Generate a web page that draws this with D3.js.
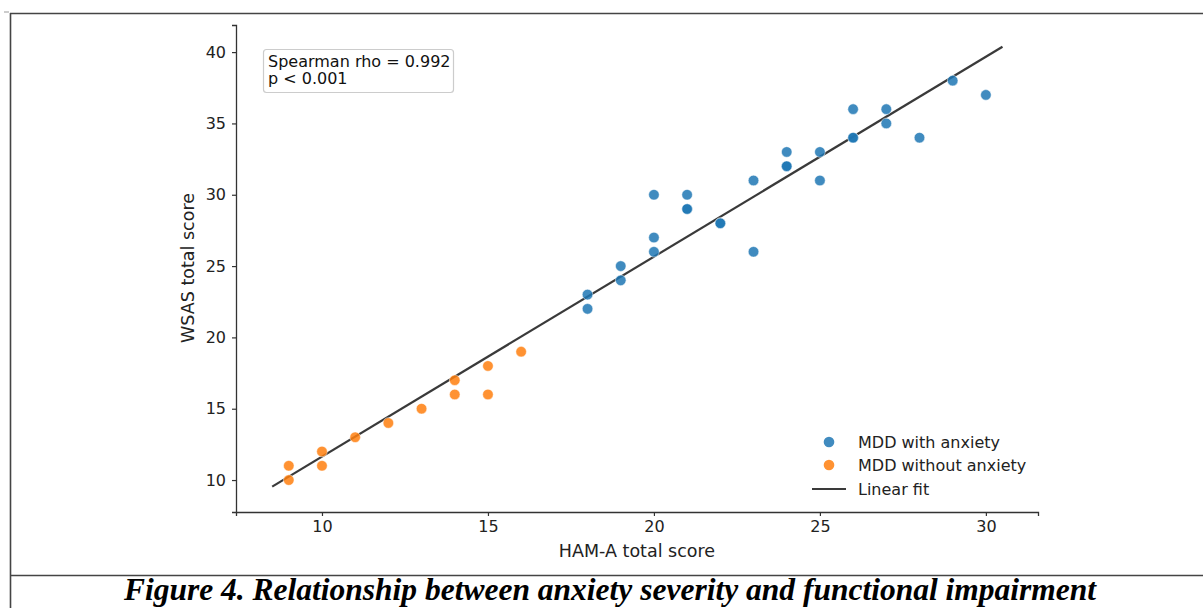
<!DOCTYPE html>
<html>
<head>
<meta charset="utf-8">
<script src="https://cdn.jsdelivr.net/npm/d3@7"></script>
<style>
  html, body { margin: 0; padding: 0; background: #fff; }
  svg { display: block; }
</style>
</head>
<body>
<svg id="chart" width="1203" height="608"></svg>
<script>
// ---- data ----
const withAnxietyX = [18,18,19,19,20,20,20,21,21,21,22,22,23,23,24,24,24,25,25,26,26,26,27,27,28,29,30];
const withAnxietyY = [23,22,25,24,30,27,26,30,29,29,28,28,31,26,33,32,32,33,31,36,34,34,36,35,34,38,37];
const withoutAnxietyX = [9,9,10,10,11,12,13,14,14,15,15,16];
const withoutAnxietyY = [11,10,12,11,13,14,15,17,16,18,16,19];
const xTicks = [10,15,20,25,30];
const yTicks = [10,15,20,25,30,35,40];
const seriesNames = ["MDD with anxiety","MDD without anxiety","Linear fit"];
const statsText = ["Spearman rho = 0.992","p < 0.001"];
const xLabel = "HAM-A total score";
const yLabel = "WSAS total score";
const caption = "Figure 4. Relationship between anxiety severity and functional impairment";

const SANS = "'DejaVu Sans', sans-serif";
const svg = d3.select("#chart");

// outer frame lines
svg.append("line").attr("x1",10).attr("x2",1203).attr("y1",13.5).attr("y2",13.5).attr("stroke","#444").attr("stroke-width",1.6);
svg.append("line").attr("x1",10.5).attr("x2",10.5).attr("y1",13).attr("y2",608).attr("stroke","#444").attr("stroke-width",1.6);
svg.append("line").attr("x1",10).attr("x2",1203).attr("y1",575.5).attr("y2",575.5).attr("stroke","#444").attr("stroke-width",1.6);
svg.append("line").attr("x1",4).attr("x2",9).attr("y1",12).attr("y2",12).attr("stroke","#999").attr("stroke-width",1);

// scales
const x = d3.scaleLinear().domain([7.41, 31.57]).range([236, 1038]);
const y = d3.scaleLinear().domain([7.76, 41.9]).range([512, 25]);

const axisColor = "#333";

// x axis
const gx = svg.append("g").attr("transform","translate(0,512)")
  .call(d3.axisBottom(x).tickValues(xTicks).tickFormat(d3.format("d")).tickSizeOuter(0).tickSize(4).tickPadding(5));
gx.select(".domain").attr("stroke",axisColor).attr("stroke-width",1.3);
gx.selectAll(".tick line").attr("stroke",axisColor).attr("stroke-width",1.2);
gx.selectAll(".tick text").style("font-size","16px").style("font-family",SANS).attr("fill","#222");

// y axis
const gy = svg.append("g").attr("transform","translate(236,0)")
  .call(d3.axisLeft(y).tickValues(yTicks).tickFormat(d3.format("d")).tickSizeOuter(0).tickSize(4).tickPadding(6));
gy.select(".domain").attr("stroke",axisColor).attr("stroke-width",1.3);
gy.selectAll(".tick line").attr("stroke",axisColor).attr("stroke-width",1.2);
gy.selectAll(".tick text").style("font-size","16px").style("font-family",SANS).attr("fill","#222");

// axis labels
svg.append("text").attr("x",637).attr("y",557).attr("text-anchor","middle")
  .style("font-size","17.5px").style("font-family",SANS).attr("fill","#222").text(xLabel);
svg.append("text").attr("transform","translate(194,268) rotate(-90)").attr("text-anchor","middle")
  .style("font-size","17.5px").style("font-family",SANS).attr("fill","#222").text(yLabel);

// linear fit (least squares on all points)
const allX = withAnxietyX.concat(withoutAnxietyX);
const allY = withAnxietyY.concat(withoutAnxietyY);
const mx = d3.mean(allX), my = d3.mean(allY);
let sxy = 0, sxx = 0;
allX.forEach((v,i)=>{ sxy += (v-mx)*(allY[i]-my); sxx += (v-mx)*(v-mx); });
const slope = sxy/sxx, intercept = my - slope*mx;
const x0 = d3.min(allX) - 0.5, x1 = d3.max(allX) + 0.5;
svg.append("line")
  .attr("x1",x(x0)).attr("y1",y(intercept+slope*x0))
  .attr("x2",x(x1)).attr("y2",y(intercept+slope*x1))
  .attr("stroke","#3a3a3a").attr("stroke-width",2.2);

const blue = "#1f77b4", orange = "#ff7f0e";
const ptsBlue = withAnxietyX.map((v,i)=>({x:v,y:withAnxietyY[i]}));
const ptsOrange = withoutAnxietyX.map((v,i)=>({x:v,y:withoutAnxietyY[i]}));

svg.append("g").selectAll("circle").data(ptsOrange).join("circle")
  .attr("cx",d=>x(d.x)).attr("cy",d=>y(d.y)).attr("r",5.3)
  .attr("fill",orange).attr("fill-opacity",0.85).attr("stroke","#fff").attr("stroke-width",0.5);
svg.append("g").selectAll("circle").data(ptsBlue).join("circle")
  .attr("cx",d=>x(d.x)).attr("cy",d=>y(d.y)).attr("r",5.3)
  .attr("fill",blue).attr("fill-opacity",0.85).attr("stroke","#fff").attr("stroke-width",0.5);

// stats box
svg.append("rect").attr("x",263.5).attr("y",49.5).attr("width",190).attr("height",43).attr("rx",3)
  .attr("fill","#fff").attr("stroke","#ccc").attr("stroke-width",1.2);
svg.append("g").selectAll("text").data(statsText).join("text")
  .attr("x",268).attr("y",(d,i)=>67+i*17).style("font-size","16px").style("font-family",SANS).attr("fill","#111").text(d=>d);

// legend
const legendY = [442,465,489];
const lg = svg.append("g");
lg.append("circle").attr("cx",829).attr("cy",legendY[0]).attr("r",5.3).attr("fill",blue).attr("fill-opacity",0.85);
lg.append("circle").attr("cx",829).attr("cy",legendY[1]).attr("r",5.3).attr("fill",orange).attr("fill-opacity",0.85);
lg.append("line").attr("x1",812).attr("x2",846).attr("y1",legendY[2]).attr("y2",legendY[2]).attr("stroke","#3a3a3a").attr("stroke-width",2.2);
lg.selectAll("text").data(seriesNames).join("text")
  .attr("x",858).attr("y",(d,i)=>legendY[i]+6).style("font-size","16px").style("font-family",SANS).attr("fill","#222").text(d=>d);

// caption
svg.append("text").attr("x",610).attr("y",600).attr("text-anchor","middle")
  .style("font-family","'Liberation Serif', 'Times New Roman', serif").style("font-weight","bold").style("font-style","italic")
  .style("font-size","31.5px").attr("fill","#000").text(caption);
</script>
</body>
</html>
